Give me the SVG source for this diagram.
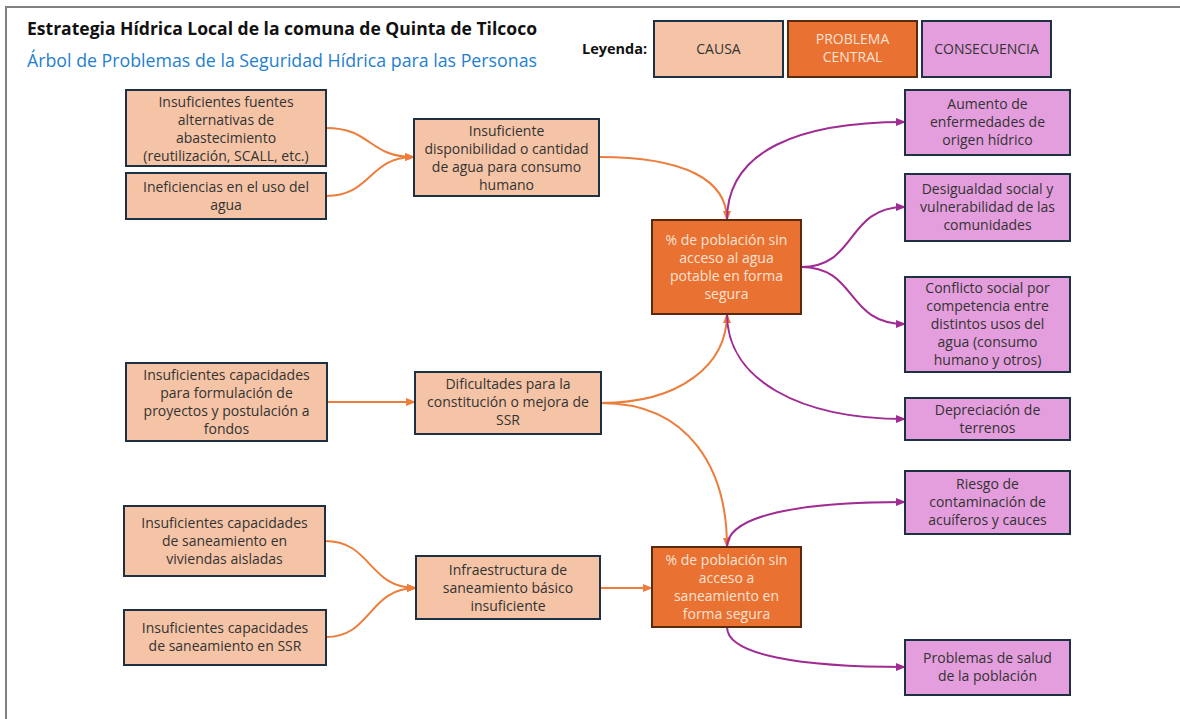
<svg xmlns="http://www.w3.org/2000/svg" width="1180" height="719" viewBox="0 0 1180 719">
<style>
text{font-family:"Open Sans","Noto Sans",sans-serif;}
.t{font-size:14px;fill:#333333;text-anchor:middle;}
.tw{font-size:14px;fill:#fbe3d4;text-anchor:middle;}
.cause{fill:#f5c4a6;stroke:#1e3142;stroke-width:2;}
.prob{fill:#e97132;stroke:#5a2a10;stroke-width:2;}
.cons{fill:#e49edd;stroke:#1e3142;stroke-width:2;}
.o{fill:none;stroke:#ed7d3b;stroke-width:2;marker-end:url(#ao);}
.p{fill:none;stroke:#a02b93;stroke-width:2;marker-end:url(#ap);}
</style>
<defs>
<marker id="ao" markerWidth="10" markerHeight="8" refX="9" refY="4" orient="auto" markerUnits="userSpaceOnUse"><path d="M0,0 L10,4 L0,8 Z" fill="#ed7d3b"/></marker>
<marker id="ap" markerWidth="10" markerHeight="8" refX="9" refY="4" orient="auto" markerUnits="userSpaceOnUse"><path d="M0,0 L10,4 L0,8 Z" fill="#a02b93"/></marker>
</defs>
<rect x="0" y="0" width="1180" height="719" fill="#ffffff"/>
<path d="M6,719 V7 H1180" fill="none" stroke="#808080" stroke-width="2"/>
<g id="title">
<text x="27" y="35" font-size="17.5" font-weight="bold" fill="#111" textLength="510" lengthAdjust="spacingAndGlyphs">Estrategia Hídrica Local de la comuna de Quinta de Tilcoco</text>
<text x="27" y="67" font-size="17.5" fill="#1f7fd0" textLength="510" lengthAdjust="spacingAndGlyphs">Árbol de Problemas de la Seguridad Hídrica para las Personas</text>
</g>
<g id="legend">
<text x="582" y="54" font-size="14.5" font-weight="bold" fill="#111">Leyenda:</text>
<rect class="cause" x="654" y="21" width="129" height="56"/>
<text class="t" x="718.5" y="54">CAUSA</text>
<rect class="prob" x="788" y="21" width="129" height="56"/>
<text class="tw" x="852.5" y="44">PROBLEMA</text>
<text class="tw" x="852.5" y="62">CENTRAL</text>
<rect class="cons" x="922" y="21" width="129" height="56"/>
<text class="t" x="986.5" y="54">CONSECUENCIA</text>
</g>
<g id="connectors">
<path class="o" d="M326,128 C372,128 368,157 414,157"/>
<path class="o" d="M326,196 C372,196 368,157 414,157"/>
<path class="o" d="M599,157 C685,157 727,180 727,220"/>
<path class="o" d="M327,402 L415,402"/>
<path class="o" d="M601,403 C680,403 727,365 727,314"/>
<path class="o" d="M601,403 C690,403 727,470 727,547"/>
<path class="o" d="M325,541 C372,541 368,588 416,588"/>
<path class="o" d="M326,637 C372,637 368,588 416,588"/>
<path class="o" d="M600,588 L652,588"/>
<path class="p" d="M727,220 C727,150 800,122 905,122"/>
<path class="p" d="M801,267 C858,267 845,207 905,207"/>
<path class="p" d="M801,267 C858,267 845,324 905,324"/>
<path class="p" d="M727,314 C727,380 800,419 905,419"/>
<path class="p" d="M727,547 C727,515 800,502 905,502"/>
<path class="p" d="M727,627 C727,655 800,667 905,667"/>
</g>
<g id="c1"><rect class="cause" x="126" y="90" width="200" height="76"/>
<text class="t" x="226" y="107">Insuficientes fuentes</text><text class="t" x="226" y="125">alternativas de</text><text class="t" x="226" y="143">abastecimiento</text><text class="t" x="226" y="161">(reutilización, SCALL, etc.)</text></g>
<g id="c2"><rect class="cause" x="126" y="173" width="200" height="46"/>
<text class="t" x="226" y="192">Ineficiencias en el uso del</text><text class="t" x="226" y="210">agua</text></g>
<g id="m1"><rect class="cause" x="414" y="119" width="185" height="77"/>
<text class="t" x="506.5" y="136">Insuficiente</text><text class="t" x="506.5" y="154">disponibilidad o cantidad</text><text class="t" x="506.5" y="172">de agua para consumo</text><text class="t" x="506.5" y="190">humano</text></g>
<g id="c3"><rect class="cause" x="126" y="363" width="201" height="78"/>
<text class="t" x="226.5" y="380">Insuficientes capacidades</text><text class="t" x="226.5" y="398">para formulación de</text><text class="t" x="226.5" y="416">proyectos y postulación a</text><text class="t" x="226.5" y="434">fondos</text></g>
<g id="m2"><rect class="cause" x="415" y="372" width="186" height="62"/>
<text class="t" x="508" y="389">Dificultades para la</text><text class="t" x="508" y="407">constitución o mejora de</text><text class="t" x="508" y="425">SSR</text></g>
<g id="c4"><rect class="cause" x="124" y="506" width="201" height="70"/>
<text class="t" x="224.5" y="528">Insuficientes capacidades</text><text class="t" x="224.5" y="546">de saneamiento en</text><text class="t" x="224.5" y="564">viviendas aisladas</text></g>
<g id="c5"><rect class="cause" x="124" y="610" width="202" height="55"/>
<text class="t" x="225" y="633">Insuficientes capacidades</text><text class="t" x="225" y="651">de saneamiento en SSR</text></g>
<g id="m3"><rect class="cause" x="416" y="556" width="184" height="63"/>
<text class="t" x="508" y="575">Infraestructura de</text><text class="t" x="508" y="593">saneamiento básico</text><text class="t" x="508" y="611">insuficiente</text></g>
<g id="p1"><rect class="prob" x="652" y="220" width="149" height="94"/>
<text class="tw" x="726.5" y="245">% de población sin</text><text class="tw" x="726.5" y="263">acceso al agua</text><text class="tw" x="726.5" y="281">potable en forma</text><text class="tw" x="726.5" y="299">segura</text></g>
<g id="p2"><rect class="prob" x="652" y="547" width="149" height="80"/>
<text class="tw" x="726.5" y="565">% de población sin</text><text class="tw" x="726.5" y="583">acceso a</text><text class="tw" x="726.5" y="601">saneamiento en</text><text class="tw" x="726.5" y="619">forma segura</text></g>
<g id="r1"><rect class="cons" x="905" y="90" width="165" height="65"/>
<text class="t" x="987.5" y="109">Aumento de</text><text class="t" x="987.5" y="127">enfermedades de</text><text class="t" x="987.5" y="145">origen hídrico</text></g>
<g id="r2"><rect class="cons" x="905" y="174" width="165" height="67"/>
<text class="t" x="987.5" y="194">Desigualdad social y</text><text class="t" x="987.5" y="212">vulnerabilidad de las</text><text class="t" x="987.5" y="230">comunidades</text></g>
<g id="r3"><rect class="cons" x="905" y="277" width="165" height="95"/>
<text class="t" x="987.5" y="293">Conflicto social por</text><text class="t" x="987.5" y="311">competencia entre</text><text class="t" x="987.5" y="329">distintos usos del</text><text class="t" x="987.5" y="347">agua (consumo</text><text class="t" x="987.5" y="365">humano y otros)</text></g>
<g id="r4"><rect class="cons" x="905" y="398" width="165" height="42"/>
<text class="t" x="987.5" y="415">Depreciación de</text><text class="t" x="987.5" y="433">terrenos</text></g>
<g id="r5"><rect class="cons" x="905" y="471" width="165" height="63"/>
<text class="t" x="987.5" y="489">Riesgo de</text><text class="t" x="987.5" y="507">contaminación de</text><text class="t" x="987.5" y="525">acuíferos y cauces</text></g>
<g id="r6"><rect class="cons" x="905" y="640" width="165" height="55"/>
<text class="t" x="987.5" y="663">Problemas de salud</text><text class="t" x="987.5" y="681">de la población</text></g>
</svg>
